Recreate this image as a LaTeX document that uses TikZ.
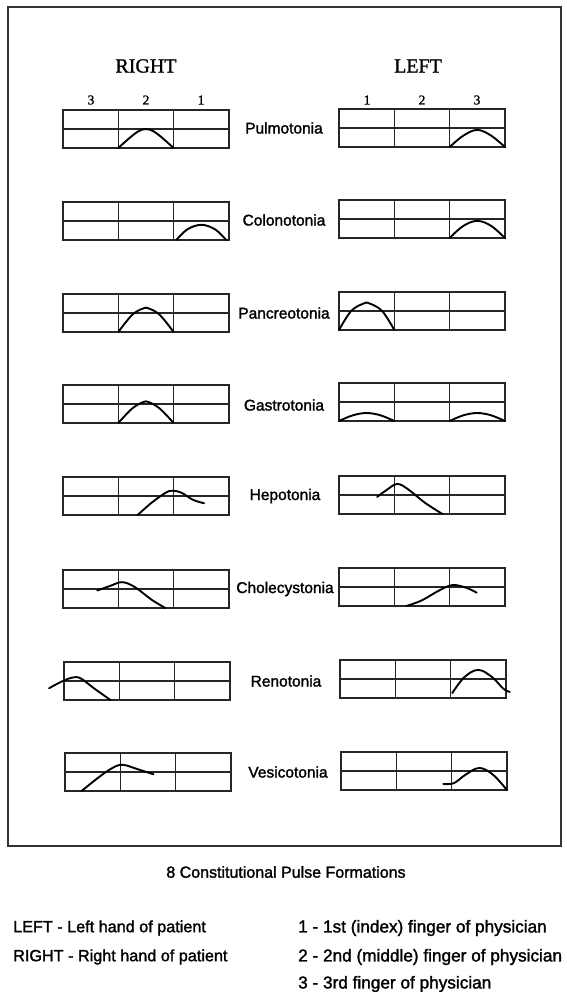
\documentclass[tikz,border=0pt]{standalone}
\usepackage{fontspec}
\setmainfont{Liberation Sans}[FakeBold=1.6]
\newfontfamily\serifhead{Liberation Serif}[FakeBold=1.2]
\newcommand\pulsegrid[3]{%
  \begin{scope}[shift={(#1,#2)}, x=55.3pt, y=-38pt]
    \draw[gridline] (0,0) rectangle (3,1) (0,0.5)--(3,0.5) (1,0)--(1,1) (2,0)--(2,1);
    #3
  \end{scope}}
\begin{document}
\begin{tikzpicture}[x=1pt,y=-1pt,
  gridline/.style={line width=1.2pt, draw=black!85},
  pulse/.style={line width=1.9pt, line join=round, line cap=round, draw=black},
  frameline/.style={line width=1.2pt, draw=black!80},
  organ/.style={font=\fontsize{15.5}{18}\selectfont, inner sep=0pt},
  hand/.style={font=\serifhead\fontsize{20}{24}\selectfont, inner sep=0pt},
  finger/.style={font=\serifhead\fontsize{13.5}{15}\selectfont, inner sep=0pt},
  legendL/.style={font=\fontsize{16.2}{19}\selectfont, inner sep=0pt, anchor=west},
  legendR/.style={font=\fontsize{17.2}{20}\selectfont, inner sep=0pt, anchor=west}]
\useasboundingbox (0,0) rectangle (566,992);
\fill[white] (0,0) rectangle (566,992);
\draw[frameline] (8,7) rectangle (561,846);

% headers
\node[hand] (right) at (146,66) {RIGHT};
\node[hand] (left) at (418,66) {LEFT};
\node[finger] (r3) at (91,100) {3};
\node[finger] (r2) at (146,100) {2};
\node[finger] (r1) at (201,100) {1};
\node[finger] (l1) at (367,100) {1};
\node[finger] (l2) at (422,100) {2};
\node[finger] (l3) at (477,100) {3};

% organ labels
\node[organ] (pulmo) at (284,128) {Pulmotonia};
\node[organ] (colon) at (284,220) {Colonotonia};
\node[organ] (pancr) at (284,313) {Pancreotonia};
\node[organ] (gastr) at (284,405) {Gastrotonia};
\node[organ] (hepot) at (285,496) {Hepotonia};
\node[organ] (chole) at (285,589) {Cholecystonia};
\node[organ] (renot) at (286,681) {Renotonia};
\node[organ] (vesic) at (288,772) {Vesicotonia};

% Pulmotonia
\pulsegrid{63}{110}{\draw[pulse] plot[smooth,tension=0.6] coordinates {(1,1) (1.25,0.68) (1.42,0.52) (1.58,0.52) (1.75,0.68) (2,1)};}
\pulsegrid{339}{109}{\draw[pulse] plot[smooth,tension=0.6] coordinates {(2,1) (2.25,0.7) (2.5,0.55) (2.75,0.7) (3,1)};}
% Colonotonia
\pulsegrid{63}{202}{\draw[pulse] plot[smooth,tension=0.6] coordinates {(2.05,1) (2.25,0.72) (2.5,0.6) (2.75,0.72) (2.95,1)};}
\pulsegrid{339}{200}{\draw[pulse] plot[smooth,tension=0.6] coordinates {(2,1) (2.25,0.68) (2.5,0.55) (2.75,0.68) (3,1)};}
% Pancreotonia
\pulsegrid{63}{294}{\draw[pulse] plot[smooth,tension=0.6] coordinates {(1,1) (1.25,0.55) (1.45,0.38) (1.55,0.38) (1.75,0.55) (2,1)};}
\pulsegrid{339}{292}{\draw[pulse] plot[smooth,tension=0.6] coordinates {(0,1) (0.22,0.5) (0.45,0.3) (0.55,0.3) (0.78,0.5) (1,1)};}
% Gastrotonia
\pulsegrid{63}{385}{\draw[pulse] plot[smooth,tension=0.6] coordinates {(1,1) (1.25,0.62) (1.45,0.45) (1.55,0.45) (1.75,0.62) (2,1)};}
\pulsegrid{339}{383}{\draw[pulse] plot[smooth,tension=0.6] coordinates {(0,1) (0.25,0.85) (0.5,0.79) (0.75,0.85) (1,1)};
  \draw[pulse] plot[smooth,tension=0.6] coordinates {(2,1) (2.25,0.85) (2.5,0.79) (2.75,0.85) (3,1)};}
% Hepotonia
\pulsegrid{63}{477}{\draw[pulse] plot[smooth,tension=0.6] coordinates {(1.35,1) (1.6,0.68) (1.85,0.42) (1.98,0.36) (2.15,0.42) (2.35,0.6) (2.55,0.69)};}
\pulsegrid{339}{476}{\draw[pulse] plot[smooth,tension=0.6] coordinates {(0.69,0.55) (0.85,0.38) (1.05,0.21) (1.25,0.35) (1.55,0.7) (1.87,1)};}
% Cholecystonia
\pulsegrid{63}{570}{\draw[pulse] plot[smooth,tension=0.6] coordinates {(0.62,0.54) (0.85,0.42) (1.07,0.32) (1.3,0.45) (1.6,0.78) (1.85,1)};}
\pulsegrid{339}{568}{\draw[pulse] plot[smooth,tension=0.6] coordinates {(1.22,1) (1.5,0.85) (1.8,0.6) (2.05,0.45) (2.3,0.52) (2.49,0.65)};}
% Renotonia
\pulsegrid{64}{662}{\draw[pulse] plot[smooth,tension=0.6] coordinates {(-0.27,0.69) (-0.05,0.52) (0.15,0.41) (0.3,0.43) (0.55,0.7) (0.84,1)};}
\pulsegrid{340}{660}{\draw[pulse] plot[smooth,tension=0.6] coordinates {(2.03,0.87) (2.25,0.45) (2.5,0.26) (2.75,0.45) (2.95,0.75) (3.07,0.84)};}
% Vesicotonia
\pulsegrid{65}{753}{\draw[pulse] plot[smooth,tension=0.6] coordinates {(0.3,1) (0.6,0.65) (0.85,0.4) (1.04,0.31) (1.3,0.42) (1.6,0.56)};}
\pulsegrid{341}{752}{\draw[pulse] plot[smooth,tension=0.6] coordinates {(1.85,0.84) (2.04,0.82) (2.25,0.6) (2.5,0.42) (2.75,0.6) (3,1)};}

% caption and legend
\node[organ, font=\fontsize{16}{19}\selectfont] (caption) at (286,872) {8 Constitutional Pulse Formations};
\node[legendL] (legL) at (13,928) {LEFT - Left hand of patient};
\node[legendL] (legR) at (13,957) {RIGHT - Right hand of patient};
\node[legendR] (leg1) at (298,928) {1 - 1st (index) finger of physician};
\node[legendR] (leg2) at (298,957) {2 - 2nd (middle) finger of physician};
\node[legendR] (leg3) at (298,984) {3 - 3rd finger of physician};
\end{tikzpicture}
\end{document}
